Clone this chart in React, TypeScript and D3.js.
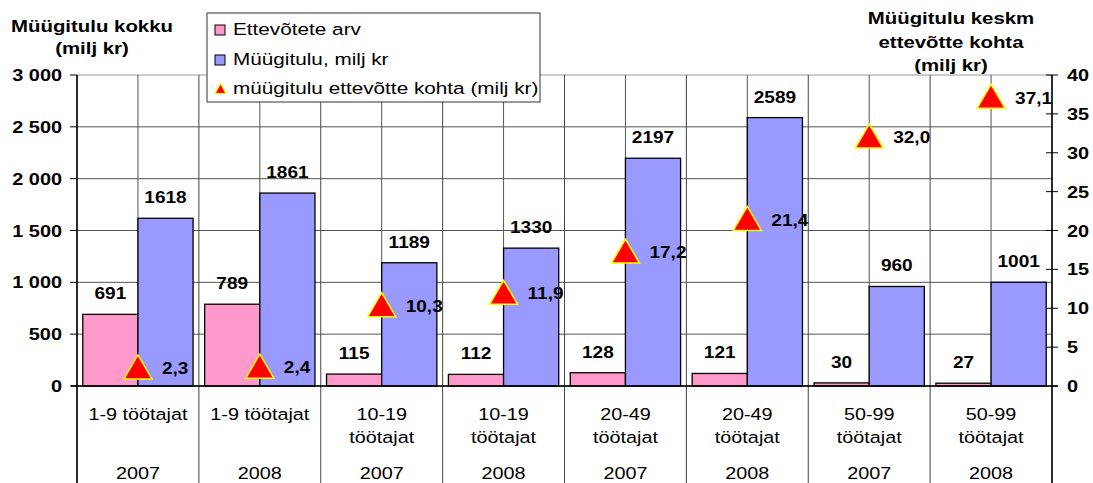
import React from "react";
import * as d3 from "d3";

const catLine1 = ["1-9 töötajat", "1-9 töötajat", "10-19", "10-19", "20-49", "20-49", "50-99", "50-99"];
const catLine2 = ["", "", "töötajat", "töötajat", "töötajat", "töötajat", "töötajat", "töötajat"];
const years = ["2007", "2008", "2007", "2008", "2007", "2008", "2007", "2008"];
const firms = [691, 789, 115, 112, 128, 121, 30, 27];
const sales = [1618, 1861, 1189, 1330, 2197, 2589, 960, 1001];
const perFirm = [2.3, 2.4, 10.3, 11.9, 17.2, 21.4, 32.0, 37.1];
const leftTicks = [0, 500, 1000, 1500, 2000, 2500, 3000];
const rightTicks = [0, 5, 10, 15, 20, 25, 30, 35, 40];
const legendLabels = ["Ettevõtete arv", "Müügitulu, milj kr", "müügitulu ettevõtte kohta (milj kr)"];

const W = 1093, H = 483;
const L = 77, R = 1052, T = 75, B = 386;
const FONT = "'Liberation Sans', Arial, sans-serif";
const PINK = "#FF99CC", BLUE = "#9999FF";

const loc = d3.formatLocale({ decimal: ",", thousands: " ", grouping: [3], currency: ["", ""] });
const fmtThousands = loc.format(",d");
const fmtDec = loc.format(".1f");

function T_({ x, y, children, size = 16, bold = false, anchor = "start", sx = 1.15, fill = "#000" }: any) {
  return (
    <text
      transform={`translate(${x},${y}) scale(${sx},1)`}
      fontFamily={FONT}
      fontSize={size}
      fontWeight={bold ? "bold" : "normal"}
      textAnchor={anchor}
      fill={fill}
    >
      {children}
    </text>
  );
}

export default function App() {
  const idx = d3.range(catLine1.length);
  const x0 = d3.scaleBand<number>().domain(idx).range([L, R]).paddingInner(0).paddingOuter(0);
  const x1 = d3.scaleBand<string>().domain(["firms", "sales"]).range([0, x0.bandwidth()]).paddingInner(0).paddingOuter(0.105);
  const yL = d3.scaleLinear().domain([0, 3000]).range([B, T]);
  const yR = d3.scaleLinear().domain([0, 40]).range([B, T]);
  const step = x0.step();
  const boundaries = d3.range(catLine1.length + 1).map((i) => L + i * step);
  const centers = idx.map((i) => (x0(i) as number) + step / 2);
  const tri = (cx: number, cy: number, w: number, h: number) =>
    `M${cx},${cy - h * 0.55} L${cx + w / 2},${cy + h * 0.45} L${cx - w / 2},${cy + h * 0.45} Z`;

  return (
    <svg width={W} height={H} style={{ position: "absolute", left: 0, top: 0, background: "#fff" }}>
      <rect x={0} y={0} width={W} height={H} fill="#fff" />
      {/* horizontal gridlines */}
      {leftTicks.map((t) => (
        <line key={"h" + t} x1={L} x2={R} y1={yL(t)} y2={yL(t)} stroke={t === 3000 ? "#999" : "#555"} strokeWidth={1} />
      ))}
      {/* vertical gridlines at centers */}
      {centers.map((c, i) => (
        <line key={"vc" + i} x1={c} x2={c} y1={T} y2={B} stroke="#555" strokeWidth={1} />
      ))}
      {/* vertical boundaries extending through label area */}
      {boundaries.map((b, i) => (
        <line key={"vb" + i} x1={b} x2={b} y1={T} y2={H} stroke={i === 0 || i === boundaries.length - 1 ? "#000" : "#444"} strokeWidth={1} />
      ))}
      {/* bars */}
      {idx.map((i) => (
        <g key={"bars" + i}>
          <rect
            x={(x0(i) as number) + (x1("firms") as number)}
            y={yL(firms[i])}
            width={x1.bandwidth()}
            height={B - yL(firms[i])}
            fill={PINK}
            stroke="#000"
            strokeWidth={1.3}
          />
          <rect
            x={(x0(i) as number) + (x1("sales") as number)}
            y={yL(sales[i])}
            width={x1.bandwidth()}
            height={B - yL(sales[i])}
            fill={BLUE}
            stroke="#000"
            strokeWidth={1.3}
          />
        </g>
      ))}
      {/* zero line */}
      <line x1={L - 6} x2={R + 6} y1={B} y2={B} stroke="#000" strokeWidth={1.5} />
      {/* left axis */}
      <line x1={L} x2={L} y1={T} y2={H} stroke="#000" strokeWidth={1.3} />
      {leftTicks.map((t) => (
        <g key={"lt" + t}>
          <line x1={L - 7} x2={L} y1={yL(t)} y2={yL(t)} stroke="#000" />
          <T_ x={62} y={yL(t) + 6} size={17} bold anchor="end" sx={1.17}>
            {fmtThousands(t)}
          </T_>
        </g>
      ))}
      {/* right axis */}
      <line x1={R} x2={R} y1={T} y2={H} stroke="#000" strokeWidth={1.3} />
      {rightTicks.map((t) => (
        <g key={"rt" + t}>
          <line x1={t === 0 ? R : R - 6} x2={R + 6} y1={yR(t)} y2={yR(t)} stroke="#000" />
          <T_ x={1067} y={yR(t) + 6} size={17} bold anchor="start" sx={1.17}>
            {t}
          </T_>
        </g>
      ))}
      {/* bar labels */}
      {idx.map((i) => (
        <g key={"bl" + i}>
          <T_ x={(x0(i) as number) + (x1("firms") as number) + x1.bandwidth() / 2} y={yL(firms[i]) - 15} size={17} bold anchor="middle" sx={1.12}>
            {firms[i]}
          </T_>
          <T_ x={(x0(i) as number) + (x1("sales") as number) + x1.bandwidth() / 2} y={yL(sales[i]) - 15} size={17} bold anchor="middle" sx={1.12}>
            {sales[i]}
          </T_>
        </g>
      ))}
      {/* triangles */}
      {idx.map((i) => (
        <g key={"tr" + i}>
          <path d={tri(centers[i], yR(perFirm[i]), 28, 24)} fill="#FF0000" stroke="#FFFF00" strokeWidth={1.5} strokeLinejoin="miter" />
          <T_ x={centers[i] + 24} y={yR(perFirm[i]) + 6} size={17} bold anchor="start" sx={1.12}>
            {fmtDec(perFirm[i])}
          </T_>
        </g>
      ))}
      {/* category labels */}
      {idx.map((i) => (
        <g key={"cl" + i}>
          <T_ x={centers[i]} y={420} size={16.5} anchor="middle" sx={1.2}>
            {catLine1[i]}
          </T_>
          {catLine2[i] && (
            <T_ x={centers[i]} y={443} size={16.5} anchor="middle" sx={1.2}>
              {catLine2[i]}
            </T_>
          )}
          <T_ x={centers[i]} y={479} size={16.5} anchor="middle" sx={1.2}>
            {years[i]}
          </T_>
        </g>
      ))}
      {/* axis titles */}
      <T_ x={92} y={32} size={17} bold anchor="middle" sx={1.2}>Müügitulu kokku</T_>
      <T_ x={92} y={54} size={17} bold anchor="middle" sx={1.2}>(milj kr)</T_>
      <T_ x={951} y={24} size={17} bold anchor="middle" sx={1.2}>Müügitulu keskm</T_>
      <T_ x={951} y={48} size={17} bold anchor="middle" sx={1.2}>ettevõtte kohta</T_>
      <T_ x={951} y={71} size={17} bold anchor="middle" sx={1.2}>(milj kr)</T_>
      {/* legend */}
      <g>
        <rect x={207} y={13} width={333} height={89} fill="#fff" stroke="#333" strokeWidth={1} />
        <rect x={215} y={25} width={10} height={10} fill={PINK} stroke="#000" strokeWidth={1} />
        <rect x={215} y={55} width={10} height={10} fill={BLUE} stroke="#000" strokeWidth={1} />
        <path d={tri(220.5, 89, 11, 10)} fill="#FF0000" stroke="#FFFF00" strokeWidth={1.2} />
        {legendLabels.map((l, i) => (
          <T_ key={"lg" + i} x={233} y={35 + i * 29.5} size={17} anchor="start" sx={1.22}>
            {l}
          </T_>
        ))}
      </g>
    </svg>
  );
}
